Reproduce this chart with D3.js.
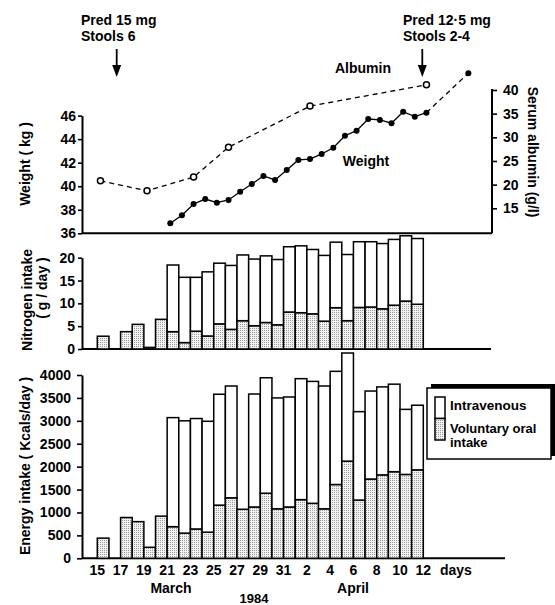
<!DOCTYPE html>
<html><head><meta charset="utf-8">
<script src="https://cdn.jsdelivr.net/npm/d3@7"></script>
<style>
body{margin:0;background:#fff}
text{font-family:"Liberation Sans",Arial,sans-serif;fill:#000;font-weight:bold}
</style>
</head><body>
<svg id="c" width="555" height="605"></svg>
<script>
// ---------- DATA ----------
const barDays = ["Mar 15","Mar 16","Mar 17","Mar 18","Mar 19","Mar 20","Mar 21","Mar 22","Mar 23","Mar 24",
  "Mar 25","Mar 26","Mar 27","Mar 28","Mar 29","Mar 30","Mar 31","Apr 1","Apr 2","Apr 3","Apr 4","Apr 5",
  "Apr 6","Apr 7","Apr 8","Apr 9","Apr 10","Apr 11"];
const tickDays = [0,2,4,6,8,10,12,14,16,18,20,22,24,26,28];
const tickLabels = ["15","17","19","21","23","25","27","29","31","2","4","6","8","10","12"];

const nitrogenOral = [2.8,0,3.8,5.4,0.35,6.5,3.8,1.4,3.9,2.85,5.5,4.3,6.2,5.1,5.8,5.3,8.1,7.95,7.7,6.1,9.05,6.2,9.1,9.2,8.8,9.6,10.5,9.8];
const nitrogenIV   = [0,0,0,0,0,0,14.6,14.3,11.8,14.05,13.3,14.0,14.4,14.6,14.6,14.3,14.3,14.65,14.1,14.4,14.35,14.5,14.4,14.3,14.3,14.4,14.3,14.4];

const energyOral = [440,0,890,800,240,920,690,550,640,570,1160,1320,1070,1120,1420,1080,1120,1280,1200,1080,1610,2120,1270,1730,1820,1890,1830,1930];
const energyIV   = [0,0,0,0,0,0,2380,2450,2410,2420,2420,2440,0,2465,2520,2420,2400,2640,2660,2680,2470,2360,1930,1920,1920,1910,1420,1410];

const weightDays = [6,7,8,9,10,11,12,13,14,15,16,17,18,19,20,21,22,23,24,25,26,27,28];
const weightKg   = [36.85,37.53,38.49,38.91,38.6,38.83,39.53,40.19,40.87,40.53,41.38,42.23,42.31,42.74,43.27,44.29,44.72,45.71,45.63,45.35,46.33,45.91,46.25];
const weightLaterDay = 31.6, weightLaterKg = 49.6;

const albuminDays = [0,4,8,11,18,28];
const albuminGl   = [20.8,18.7,21.6,27.9,36.6,41.1];

const weightTicks = [36,38,40,42,44,46];
const albuminTicks = [15,20,25,30,35,40];
const nitrogenTicks = [0,5,10,15,20];
const energyTicks = [0,500,1000,1500,2000,2500,3000,3500,4000];

// ---------- CHART ----------
const svg = d3.select("#c");
const defs = svg.append("defs");
const pat = defs.append("pattern").attr("id","dots").attr("width",2).attr("height",2)
  .attr("patternUnits","userSpaceOnUse");
pat.append("rect").attr("width",2).attr("height",2).attr("fill","#f2f2f2");
pat.append("rect").attr("width",1).attr("height",1).attr("fill","#9a9a9a");

const x = d3.scaleLinear().domain([0,28]).range([97.3,423.3]);
const ptOff = 0.27;
const axX = 82, axR = 492;

const yW = d3.scaleLinear().domain([36,46]).range([233.3,115.6]);
const yA = d3.scaleLinear().domain([15,40]).range([208.3,90]);
const yN = d3.scaleLinear().domain([0,20]).range([349,257.7]);
const yE = d3.scaleLinear().domain([0,4000]).range([558.3,375]);

function styleAxis(g, sw){
  g.selectAll("path.domain").attr("stroke","#000").attr("stroke-width",sw||2);
  g.selectAll(".tick line").attr("stroke","#000").attr("stroke-width",1.6);
  g.selectAll(".tick text").attr("font-size",14).attr("font-family","Liberation Sans, Arial, sans-serif")
    .attr("font-weight","bold").attr("fill","#000");
}

// left axes
const gW = svg.append("g").attr("transform",`translate(${axX},0)`)
  .call(d3.axisLeft(yW).tickValues(weightTicks).tickSize(4).tickSizeOuter(0).tickPadding(2).tickFormat(d3.format("d")));
styleAxis(gW);
const gN = svg.append("g").attr("transform",`translate(${axX},0)`)
  .call(d3.axisLeft(yN).tickValues(nitrogenTicks).tickSize(4).tickSizeOuter(0).tickPadding(3).tickFormat(d3.format("d")));
styleAxis(gN);
const gE = svg.append("g").attr("transform",`translate(${axX},0)`)
  .call(d3.axisLeft(yE).tickValues(energyTicks).tickSize(5).tickSizeOuter(0).tickPadding(6).tickFormat(d3.format("d")));
styleAxis(gE);
const gA = svg.append("g").attr("transform",`translate(${axR},0)`)
  .call(d3.axisRight(yA).tickValues(albuminTicks).tickSize(5).tickSizeOuter(0).tickPadding(6).tickFormat(d3.format("d")));
gA.select("path.domain").remove();
styleAxis(gA);
svg.append("line").attr("x1",axR).attr("x2",axR).attr("y1",yW(36)).attr("y2",yA(40)-1)
  .attr("stroke","#000").attr("stroke-width",2);

// baselines
[[yW(36),axR],[yN(0),491],[yE(0),505]].forEach(([yy,xe])=>{
  svg.append("line").attr("x1",axX).attr("x2",xe).attr("y1",yy).attr("y2",yy)
    .attr("stroke","#000").attr("stroke-width",2);
});

// stacked bars
function drawBars(oral, iv, y){
  const g = svg.append("g");
  barDays.forEach((d,i)=>{
    const x0 = x(i), w = x(i+1)-x(i);
    if(oral[i] > 0){
      g.append("rect").attr("x",x0).attr("width",w)
        .attr("y",y(oral[i])).attr("height",y(0)-y(oral[i]))
        .attr("fill","url(#dots)").attr("stroke","#000").attr("stroke-width",1.5);
    }
    if(iv[i] > 0){
      const t = oral[i]+iv[i];
      g.append("rect").attr("x",x0).attr("width",w)
        .attr("y",y(t)).attr("height",y(oral[i])-y(t))
        .attr("fill","#fff").attr("stroke","#000").attr("stroke-width",1.5);
    }
  });
}
drawBars(nitrogenOral, nitrogenIV, yN);
drawBars(energyOral, energyIV, yE);

// albumin line
const albPts = albuminDays.map((d,i)=>[x(d+ptOff), yA(albuminGl[i])]);
svg.append("path").attr("d",d3.line()(albPts)).attr("fill","none")
  .attr("stroke","#000").attr("stroke-width",1.3).attr("stroke-dasharray","5,4");
svg.selectAll("circle.alb").data(albPts).enter().append("circle").attr("class","alb")
  .attr("cx",d=>d[0]).attr("cy",d=>d[1]).attr("r",3)
  .attr("fill","#fff").attr("stroke","#000").attr("stroke-width",1.5);

// weight line
const wPts = weightDays.map((d,i)=>[x(d+ptOff), yW(weightKg[i])]);
const lastW = [x(weightLaterDay+ptOff), yW(weightLaterKg)];
svg.append("path").attr("d",d3.line()(wPts)).attr("fill","none")
  .attr("stroke","#000").attr("stroke-width",1.3);
svg.append("path").attr("d",d3.line()([wPts[wPts.length-1], lastW])).attr("fill","none")
  .attr("stroke","#000").attr("stroke-width",1.3).attr("stroke-dasharray","5,4");
svg.selectAll("circle.w").data(wPts.concat([lastW])).enter().append("circle").attr("class","w")
  .attr("cx",d=>d[0]).attr("cy",d=>d[1]).attr("r",3).attr("fill","#000");

// x tick labels
svg.selectAll("text.xt").data(tickDays).enter().append("text").attr("class","xt")
  .attr("x",d=>x(d)).attr("y",575).attr("text-anchor","middle").attr("font-size",14)
  .text((d,i)=>tickLabels[i]);
svg.append("text").attr("x",440).attr("y",575).attr("font-size",14).text("days");
svg.append("text").attr("x",171).attr("y",593).attr("text-anchor","middle").attr("font-size",14).text("March");
svg.append("text").attr("x",353).attr("y",593).attr("text-anchor","middle").attr("font-size",14).text("April");
svg.append("text").attr("x",254).attr("y",603).attr("text-anchor","middle").attr("font-size",13).text("1984");

// axis titles
function vtext(t, cx, cy, rot){
  svg.append("text").attr("transform",`translate(${cx},${cy}) rotate(${rot})`)
    .attr("text-anchor","middle").attr("dominant-baseline","central").attr("font-size",14).text(t);
}
vtext("Weight ( kg )", 25, 164, -90);
vtext("Nitrogen intake", 27, 300, -90);
vtext("( g / day )", 42, 288, -90);
vtext("Energy intake  ( Kcals/day )", 25, 466, -90);
vtext("Serum albumin (g/l)", 533, 152, 90);

// annotations
svg.append("text").attr("x",81).attr("y",25).attr("font-size",14).text("Pred 15 mg");
svg.append("text").attr("x",81).attr("y",41).attr("font-size",14).text("Stools 6");
svg.append("text").attr("x",403).attr("y",25).attr("font-size",14).text("Pred 12·5 mg");
svg.append("text").attr("x",403).attr("y",41).attr("font-size",14).text("Stools 2-4");
svg.append("text").attr("x",363).attr("y",73).attr("text-anchor","middle").attr("font-size",14).text("Albumin");
svg.append("text").attr("x",366).attr("y",166).attr("text-anchor","middle").attr("font-size",14).text("Weight");

function arrow(ax){
  svg.append("line").attr("x1",ax).attr("x2",ax).attr("y1",49).attr("y2",68)
    .attr("stroke","#000").attr("stroke-width",1.8);
  svg.append("path").attr("d",`M${ax-4.5},65 L${ax+4.5},65 L${ax},77 Z`).attr("fill","#000");
}
arrow(116.7);
arrow(422.3);

// legend
const lg = svg.append("g");
lg.append("rect").attr("x",431).attr("y",384).attr("width",124).attr("height",72).attr("fill","#000");
lg.append("rect").attr("x",427).attr("y",388).attr("width",124).attr("height",71)
  .attr("fill","#fff").attr("stroke","#000").attr("stroke-width",1.5);
lg.append("rect").attr("x",435).attr("y",397).attr("width",10).attr("height",21.5)
  .attr("fill","#fff").attr("stroke","#000").attr("stroke-width",1.5);
lg.append("rect").attr("x",435).attr("y",418.5).attr("width",10).attr("height",21.5)
  .attr("fill","url(#dots)").attr("stroke","#000").attr("stroke-width",1.5);
lg.append("text").attr("x",450).attr("y",410).attr("font-size",13.5).text("Intravenous");
lg.append("text").attr("x",450).attr("y",433).attr("font-size",13).text("Voluntary oral");
lg.append("text").attr("x",450).attr("y",447).attr("font-size",13).text("intake");
</script>
</body></html>
